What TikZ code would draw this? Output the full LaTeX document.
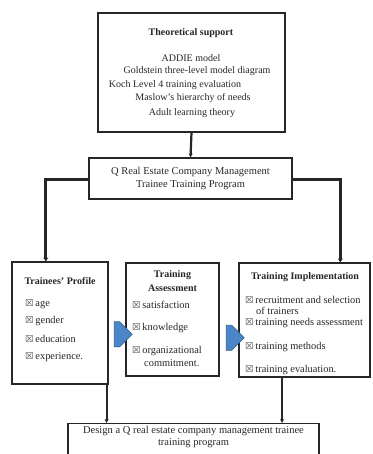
\documentclass[tikz,border=0pt]{standalone}
\usepackage{fontspec}
\setmainfont{Liberation Serif}
\newfontfamily\symfont{DejaVu Sans}
\usetikzlibrary{calc,shapes.arrows,arrows.meta}
\definecolor{arrowblue}{HTML}{4A86C8}
\definecolor{arrowedge}{HTML}{2E5F8F}
\newcommand{\cbx}{{\symfont\fontsize{9.5}{9.5}\selectfont\color{black!70}☒}\,}
\tikzset{
  box/.style={draw=black!85, line width=1.1pt, inner sep=0pt},
  txt/.style={font=\fontsize{10}{12}\selectfont, inner sep=0pt, text=black!85},
  ttl/.style={font=\fontsize{10}{12}\selectfont\bfseries, inner sep=0pt, text=black!85},
  item/.style={font=\fontsize{10.4}{12}\selectfont, inner sep=0pt, text=black!85, anchor=west},
  conn/.style={draw=black!85, line width=2.2pt, -{Stealth[length=4pt,width=4pt]}},
  thickconn/.style={draw=black!85, line width=3pt, -{Stealth[length=4pt,width=5pt]}},
  blue arrow/.style={single arrow, draw=arrowedge, fill=arrowblue, line width=0.6pt,
    minimum height=18pt, minimum width=25pt, single arrow head extend=0pt,
    single arrow tip angle=90, inner sep=0pt, shape border uses incircle=false}
}
\begin{document}
\begin{tikzpicture}[x=1pt,y=-1pt]
\useasboundingbox (0,0) rectangle (372,454);
% boxes
\node[box, minimum width=187pt, minimum height=119pt] (top) at (191.5,72.5) {};
\node[box, minimum width=203pt, minimum height=41pt, align=center, font=\fontsize{10.5}{12.5}\selectfont, text=black!85] (q) at (190.5,178.5) {Q Real Estate Company Management\\Trainee Training Program};
\node[box, minimum width=96pt, minimum height=122pt] (prof) at (60,323) {};
\node[box, minimum width=93pt, minimum height=113pt] (assess) at (172.5,319.5) {};
\node[box, minimum width=131pt, minimum height=114pt] (impl) at (304.5,320) {};
\node[box, minimum width=251pt, minimum height=40pt, anchor=north, align=center, font=\fontsize{10.5}{12}\selectfont, text=black!85, text depth=16pt] (design) at (193.5,423) {Design a Q real estate company management trainee\\training program};
% top box text
\node[ttl] (t0) at (191,33) {Theoretical support};
\node[txt] (t1) at (191,58) {ADDIE model};
\node[txt] (t2) at (197,71) {Goldstein three-level model diagram};
\node[txt] (t3) at (175,85) {Koch Level 4 training evaluation};
\node[txt] (t4) at (193,98) {Maslow's hierarchy of needs};
\node[txt] (t5) at (192,113) {Adult learning theory};
% profile
\node[ttl] (p0) at (60,281) {Trainees' Profile};
\node[item] (p1) at (25,304) {\cbx age};
\node[item] (p2) at (25,321) {\cbx gender};
\node[item] (p3) at (25,339) {\cbx education};
\node[item] (p4) at (25,357) {\cbx experience.};
% assessment
\node[ttl] (a0) at (172.5,275) {Training};
\node[ttl] (a1) at (172.5,288) {Assessment};
\node[item] (a2) at (132,305) {\cbx satisfaction};
\node[item] (a3) at (132,328) {\cbx knowledge};
\node[item] (a4) at (132,351) {\cbx organizational};
\node[item] (a5) at (144,363) {commitment.};
% implementation
\node[ttl] (i0) at (305,277) {Training Implementation};
\node[item] (i1) at (245,300) {\cbx recruitment and selection};
\node[item] (i2) at (256,311) {of trainers};
\node[item] (i3) at (245,323) {\cbx training needs assessment};
\node[item] (i4) at (245,347) {\cbx training methods};
\node[item] (i5) at (245,370) {\cbx training evaluation.};
% connectors
\draw[conn] (top.south) -- (q.north);
\coordinate (pin) at ($(prof.north west)!0.354!(prof.north east)$);
\coordinate (iin) at ($(impl.north west)!0.771!(impl.north east)$);
\draw[thickconn] ($(q.west)+(0,1.5)$) -| (pin);
\draw[thickconn] ($(q.east)+(0,1.5)$) -| (iin);
\coordinate (pout) at ($(prof.south west)!0.98!(prof.south east)$);
\coordinate (iout) at ($(impl.south west)!0.33!(impl.south east)$);
\draw[conn] (pout) -- (pout |- design.north);
\draw[conn] (iout) -- (iout |- design.north);
% blue arrows
\node[blue arrow] (b1) at ($(prof.east)!0.5!(assess.west)+(0,13)$) {};
\node[blue arrow] (b2) at ($(assess.east)!0.5!(impl.west)+(0,18)$) {};
\end{tikzpicture}
\end{document}
